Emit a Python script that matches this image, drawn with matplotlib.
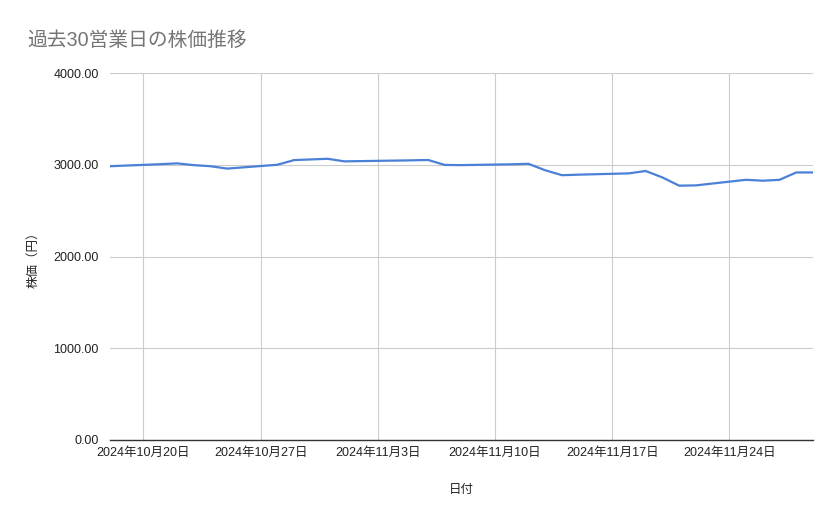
import matplotlib
matplotlib.use("Agg")
import matplotlib.pyplot as plt
import matplotlib.dates as mdates
import matplotlib.ticker as mticker
import numpy as np
import datetime as dt

plt.rcParams['font.family'] = ['Liberation Sans', 'Noto Sans CJK JP']

# 過去30営業日 (11/4 は祝日)
dates = ["2024-10-18", "2024-10-21", "2024-10-22", "2024-10-23", "2024-10-24",
         "2024-10-25", "2024-10-28", "2024-10-29", "2024-10-30", "2024-10-31",
         "2024-11-01", "2024-11-05", "2024-11-06", "2024-11-07", "2024-11-08",
         "2024-11-11", "2024-11-12", "2024-11-13", "2024-11-14", "2024-11-15",
         "2024-11-18", "2024-11-19", "2024-11-20", "2024-11-21", "2024-11-22",
         "2024-11-25", "2024-11-26", "2024-11-27", "2024-11-28", "2024-11-29"]
prices = [2984, 3006, 3015, 2996, 2984,
          2958, 3000, 3051, 3058, 3065,
          3037, 3048, 3052, 2998, 2996,
          3005, 3010, 2940, 2886, 2892,
          2906, 2932, 2862, 2772, 2775,
          2836, 2826, 2836, 2916, 2916]

yticks = [0, 1000, 2000, 3000, 4000]
xtick_dates = ["2024-10-20", "2024-10-27", "2024-11-03", "2024-11-10", "2024-11-17", "2024-11-24"]

x = [dt.datetime.strptime(d, "%Y-%m-%d") for d in dates]
xt = [dt.datetime.strptime(d, "%Y-%m-%d") for d in xtick_dates]

fig = plt.figure(figsize=(8.39, 5.19), dpi=100)
ax = fig.add_axes([110/839, 1 - 440/519, (813 - 110)/839, (440 - 73)/519])

ax.plot(x, prices, color='#4a80d6', lw=1.6, solid_joinstyle='round')

ax.set_xlim(x[0], x[-1])
ax.set_ylim(0, 4000)
ax.set_yticks(yticks)
ax.yaxis.set_major_formatter(mticker.FuncFormatter(lambda v, p: f"{v:.2f}"))
ax.set_xticks(xt)
ax.set_xticklabels([f"{d.year}年{d.month}月{d.day}日" for d in xt])

ax.grid(True, color='#cccccc', lw=0.8)
ax.set_axisbelow(True)
for s in ['top', 'right', 'left']:
    ax.spines[s].set_visible(False)
ax.spines['bottom'].set_color('#333333')
ax.spines['bottom'].set_linewidth(1.0)
ax.spines['bottom'].set_zorder(3)
ax.tick_params(axis='both', length=0, labelsize=9, colors='#222222')
ax.tick_params(axis='y', pad=8)
ax.tick_params(axis='x', pad=5)

ax.set_xlabel("日付", fontsize=9, color='#222222', labelpad=18)
ax.set_ylabel("株価（円）", fontsize=9, color='#222222', labelpad=10)

fig.text(27/839, 1 - 40/519, "過去30営業日の株価推移", fontsize=14.2, color='#757575',
         va='center', ha='left')

fig.savefig("out.png", dpi=100)
